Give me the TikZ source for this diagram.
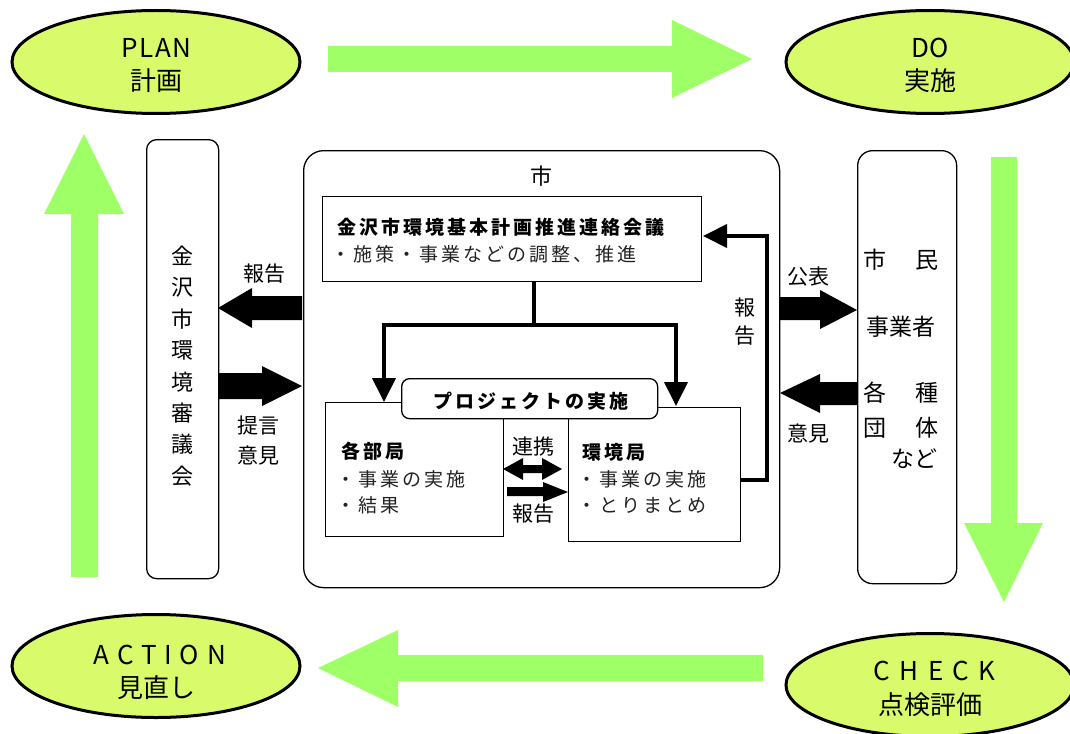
\documentclass[tikz,border=0pt]{standalone}
\usepackage{fontspec}
\setmainfont{Noto Sans CJK JP}
\newfontfamily\jsp[LetterSpace=16]{Noto Sans CJK JP}
\usetikzlibrary{shapes.geometric,arrows.meta}
\definecolor{ellfill}{HTML}{D9FA6B}
\definecolor{grn}{HTML}{9EFF66}
\definecolor{txtgray}{HTML}{222222}
\tikzset{
  phase/.style={ellipse, draw, line width=3pt, fill=ellfill, minimum width=288pt,
    minimum height=103pt, inner sep=0pt},
  phasetxt/.style={inner sep=0pt, align=center, font=\fontsize{26}{33.5}\selectfont},
  frame/.style={draw, line width=1.3pt, inner sep=0pt, anchor=north west},
  ttl/.style={font=\jsp\bfseries\fontsize{19}{22}\selectfont, anchor=west, inner sep=0pt},
  bul/.style={font=\jsp\fontsize{19}{22}\selectfont, text=txtgray, anchor=west, inner sep=0pt},
  lbl/.style={font=\fontsize{21}{30}\selectfont, inner sep=0pt, align=center},
  cit/.style={font=\fontsize{23}{28}\selectfont, inner sep=0pt},
  tk/.style={line width=4pt},
  tka/.style={line width=4pt, -{Triangle[length=24pt,width=23pt]}},
  garrow/.style={fill=grn, draw=none},
  barrow/.style={fill=black, draw=none}
}
\begin{document}
\begin{tikzpicture}[x=1pt,y=-1pt]
\useasboundingbox (0,0) rectangle (1070,733);

% PDCA ellipses
\node[phase] (plan) at (156,62) {};
\node[phasetxt] (plant) at (156,65.5) {{\addfontfeature{LetterSpace=6}PLAN\kern-1.5pt}\\計画};
\node[phase] (do) at (930,62) {};
\node[phasetxt] (dot) at (930,65.5) {DO\\実施};
\node[phase] (act) at (156,666) {};
\node[phasetxt] (actt) at (156,672.5) {{\addfontfeature{LetterSpace=30}ACTION\kern-7.8pt}\\見直し};
\node[phase] (chk) at (930,685) {};
\node[phasetxt] (chkt) at (930,689) {{\addfontfeature{LetterSpace=36}CHECK\kern-9.4pt}\\点検評価};

% green cycle arrows
\fill[garrow] (328,46) -- (672,46) -- (672,20) -- (752,59) -- (672,98) -- (672,72) -- (328,72) -- cycle;
\fill[garrow] (991,157) -- (1017,157) -- (1017,523) -- (1043,523) -- (1004,602) -- (964,523) -- (991,523) -- cycle;
\fill[garrow] (763,655) -- (398,655) -- (398,630) -- (318,668) -- (398,707) -- (398,681) -- (763,681) -- cycle;
\fill[garrow] (71,577) -- (71,214) -- (44,214) -- (84,134) -- (124,214) -- (98,214) -- (98,577) -- cycle;

% side boxes
\node[frame, rounded corners=10pt, minimum width=72pt, minimum height=439pt] (council) at (146,139) {};
\node[lbl, font=\fontsize{22}{31.4}\selectfont] (counciltxt) at (182,366) {金\\沢\\市\\環\\境\\審\\議\\会};
\node[frame, rounded corners=15pt, minimum width=99pt, minimum height=433pt] (citizen) at (857,150) {};
\node[cit] (c1) at (875,260) {市};
\node[cit] (c2) at (927,260) {民};
\node[cit] (c3) at (901,327) {事業者};
\node[cit] (c4) at (875,393) {各};
\node[cit] (c5) at (927,393) {種};
\node[cit] (c6) at (875,428) {団};
\node[cit] (c7) at (927,428) {体};
\node[cit] (c8) at (914,459) {など};

% city box
\node[frame, rounded corners=20pt, minimum width=476pt, minimum height=437pt] (city) at (303,150) {};
\node[lbl, font=\fontsize{22}{26}\selectfont] (citylbl) at (541,176) {市};

% liaison meeting
\node[frame, minimum width=379pt, minimum height=85pt] (meet) at (322,196) {};
\node[ttl] (meett) at (337,227) {金沢市環境基本計画推進連絡会議};
\node[bul] (meetb) at (331,254) {・施策・事業などの調整、推進};

% departments
\node[frame, minimum width=178pt, minimum height=134pt] (kaku) at (325,402) {};
\node[ttl] (kakut) at (341,451) {各部局};
\node[bul] (kakub1) at (336,479) {・事業の実施};
\node[bul] (kakub2) at (336,505) {・結果};
\node[frame, minimum width=172pt, minimum height=134pt] (kan) at (568,407) {};
\node[ttl] (kant) at (582,452) {環境局};
\node[bul] (kanb1) at (577,479) {・事業の実施};
\node[bul] (kanb2) at (577,505) {・とりまとめ};
\node[frame, rounded corners=8pt, fill=white, minimum width=256pt, minimum height=40pt] (proj) at (401,378) {};
\node[ttl, anchor=center] (projt) at (531,401) {プロジェクトの実施};

% connectors inside city
\coordinate (j) at (534,325);
\coordinate (tipL) at (384,402);
\coordinate (tipR) at (676,406);
\draw[tk] (meet.south -| j) -- (j);
\draw[tka] (j) -| (tipL);
\draw[tka] (j) -| (tipR);
\coordinate (rp1) at (767,480);
\coordinate (rp2) at (703,236);
\draw[tka] (kan.east |- rp1) -- (rp1) |- (rp2);
\node[lbl] (rep1) at (745,308) {報};
\node[lbl] (rep2) at (745,336) {告};

% renkei / houkoku between departments
\fill[barrow] (503,469) -- (523,458) -- (523,465) -- (542,465) -- (542,458) -- (562,469) -- (542,480) -- (542,473) -- (523,473) -- (523,480) -- cycle;
\fill[barrow] (507,487) -- (543,487) -- (543,482) -- (568,492) -- (543,502) -- (543,496) -- (507,496) -- cycle;
\node[lbl] (renkei) at (533,447) {連携};
\node[lbl] (hok) at (533,514) {報告};

% arrows to council
\fill[barrow] (302,296) -- (252,296) -- (252,288) -- (218,308) -- (252,328) -- (252,320) -- (302,320) -- cycle;
\fill[barrow] (218,373) -- (262,373) -- (262,366) -- (302,386) -- (262,406) -- (262,399) -- (218,399) -- cycle;
\node[lbl] (l1) at (264,274) {報告};
\node[lbl] (l2) at (258,441) {提言\\意見};

% arrows to citizens
\fill[barrow] (779,297) -- (820,297) -- (820,290) -- (857,310) -- (820,329) -- (820,320) -- (779,320) -- cycle;
\fill[barrow] (857,382) -- (820,382) -- (820,374) -- (780,393) -- (820,413) -- (820,405) -- (857,405) -- cycle;
\node[lbl] (r1) at (808,277) {公表};
\node[lbl] (r2) at (808,434) {意見};
\end{tikzpicture}
\end{document}
